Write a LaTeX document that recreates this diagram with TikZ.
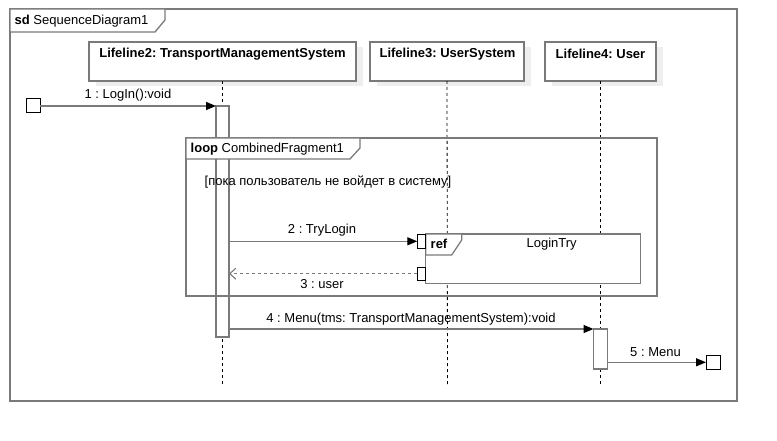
\documentclass[tikz,border=0pt]{standalone}
\usepackage{fontspec}
\setmainfont{Liberation Sans}
\usetikzlibrary{arrows.meta}
\definecolor{lc}{HTML}{7A7A7A}
\definecolor{sh}{HTML}{EEEEEE}
\newcommand\fs{\fontsize{13}{15}\selectfont\frenchspacing}
\frenchspacing
\begin{document}
\begin{tikzpicture}[x=1pt,y=-1pt,
 frm/.style={draw=lc, line width=1.3pt},
 tabfill/.style={draw=lc, line width=1.3pt, fill=white},
 lifebox/.style={draw=lc, line width=1.3pt, fill=white, minimum height=39pt, outer sep=0pt, inner sep=0pt, anchor=north west},
 actbox/.style={draw=lc, line width=1.3pt, fill=white, outer sep=0pt, inner sep=0pt, anchor=north},
 gatebox/.style={draw=black, line width=0.8pt, fill=white, inner sep=0pt, outer sep=0pt},
 lifeline/.style={black, line width=0.8pt, dash pattern=on 3pt off 3pt},
 msg/.style={draw=lc, line width=1.3pt, -{Triangle[length=10pt,width=8pt,color=black]}},
 ret/.style={draw=lc, line width=1.1pt, dash pattern=on 3pt off 3pt, -{Straight Barb[length=6pt,width=11pt,color=lc]}},
 txt/.style={inner sep=0pt, font=\fs},
 btxt/.style={inner sep=0pt, font=\fs\bfseries}
]
\useasboundingbox (0,0) rectangle (777,441);
\fill[white] (0,0) rectangle (777,441);

% outer frame
\draw[frm] (10,9) rectangle (737,401);
\draw[tabfill] (10,9) -- (165,9) -- (165,20) -- (155,32) -- (10,32) -- cycle;
\node[txt, anchor=west] (sdt) at (14.5,21) {\textbf{sd} SequenceDiagram1};

% lifeline heads with shadows
\fill[sh] (96,47) rectangle (363,86);
\fill[sh] (377,47) rectangle (531,86);
\fill[sh] (552,47) rectangle (663,86);
\node[lifebox, minimum width=267pt] (L2) at (89,42) {};
\node[lifebox, minimum width=154pt] (L3) at (370,42) {};
\node[lifebox, minimum width=111pt] (L4) at (545,42) {};
\node[btxt] (L2t) at (222.5,54) {Lifeline2: TransportManagementSystem};
\node[btxt] (L3t) at (447.5,54) {Lifeline3: UserSystem};
\node[btxt] (L4t) at (600.5,54) {Lifeline4: User};

% lifelines
\coordinate (L2end) at (222.5,385);
\coordinate (L3end) at (447.5,385);
\coordinate (L4end) at (600.5,385);
\draw[lifeline] (L2.south) -- (L2end);
\draw[lifeline] (L3.south) -- (L3end);
\draw[lifeline] (L4.south) -- (L4end);

% activations
\node[actbox, minimum width=13pt, minimum height=231pt] (A2) at (222.5,106) {};
\node[actbox, minimum width=14pt, minimum height=40pt] (A4) at (600.5,329) {};

% loop fragment
\draw[frm] (186,138) rectangle (657,296);
\draw[tabfill] (186,138) -- (360,138) -- (360,148) -- (350,159) -- (186,159) -- cycle;
\node[txt, anchor=west] (loopt) at (190.5,149) {\textbf{loop} CombinedFragment1};
\node[txt, anchor=west] (guard) at (204.5,182) {[пока пользователь не войдет в систему]};

% ref fragment
\draw[tabfill] (425.7,234) rectangle (640.7,283.3);
\draw[tabfill] (425.7,234) -- (461.7,234) -- (461.7,240) -- (451.7,255) -- (425.7,255) -- cycle;
\node[btxt, anchor=west] (reft) at (430.5,244) {ref};
\node[txt] (refn) at (551.7,244.5) {LoginTry};

% gates
\node[gatebox, minimum width=14pt, minimum height=14pt] (G1) at (33,105) {};
\node[gatebox, minimum width=8.4pt, minimum height=14pt] (GR1) at (421.5,241.3) {};
\node[gatebox, minimum width=8.4pt, minimum height=13.5pt] (GR2) at (421.5,273.7) {};
\node[gatebox, minimum width=14pt, minimum height=14pt] (G5) at (713,362.3) {};

% messages
\draw[msg] (G1.east |- A2.north) -- (A2.north west);
\node[txt] (m1) at (128,95.5) {1 : LogIn():void};
\draw[msg] (A2.east |- GR1.west) -- (GR1.west);
\node[txt] (m2) at (322,230.5) {2 : TryLogin};
\draw[ret] (GR2.west) -- (GR2.west -| A2.east);
\node[txt] (m3) at (322,284) {3 : user};
\draw[msg] (A2.east |- A4.north west) -- (A4.north west);
\node[txt] (m4) at (411,319.5) {4 : Menu(tms: TransportManagementSystem):void};
\draw[msg] (A4.east |- G5.west) -- (G5.west);
\node[txt] (m5) at (655.5,352) {5 : Menu};
\end{tikzpicture}
\end{document}
